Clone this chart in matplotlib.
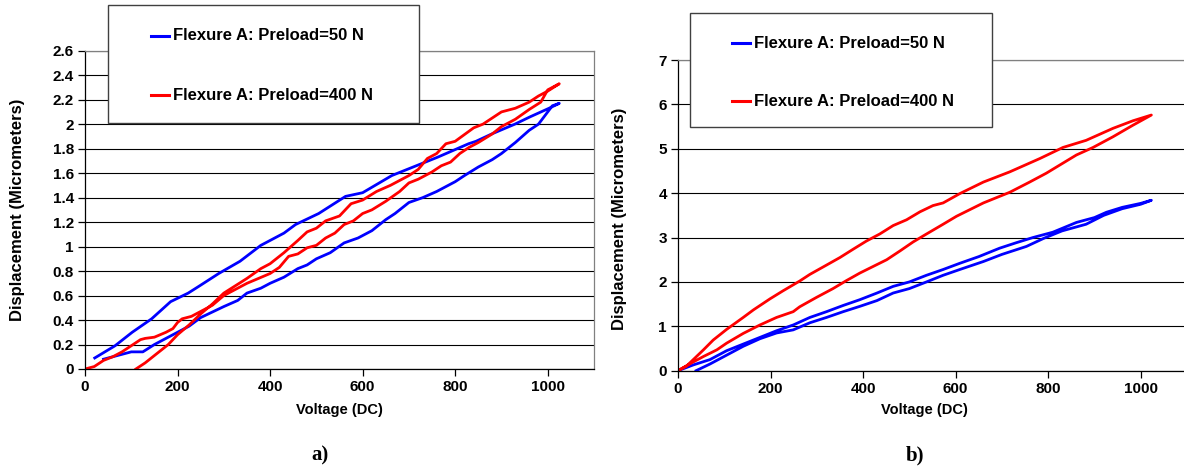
import matplotlib
matplotlib.use('Agg')
import matplotlib.pyplot as plt
from matplotlib.patches import Rectangle
from matplotlib.lines import Line2D

plt.rcParams['font.family'] = 'Liberation Sans'
plt.rcParams['font.weight'] = 'bold'

# ---- panel a) : loop data (going up on one branch, back down on the other)
a_blue_v = [21, 65, 102, 144, 185, 223, 248, 289, 335, 380, 430, 455, 505, 563, 600,
            663, 696, 762, 829, 845, 879, 929, 962, 1003, 1025,
            1010, 1000, 980, 960, 930, 900, 880, 850, 820, 800, 760, 730, 700, 670, 650,
            620, 590, 560, 530, 500, 480, 460, 430, 400, 380, 350, 330, 300, 250, 225,
            200, 175, 150, 125, 100, 80, 60, 40]
a_blue_d = [0.09, 0.19, 0.30, 0.41, 0.55, 0.62, 0.68, 0.78, 0.88, 1.01, 1.11, 1.18, 1.27, 1.41, 1.44,
            1.58, 1.63, 1.73, 1.84, 1.86, 1.92, 2.00, 2.06, 2.13, 2.17,
            2.15, 2.10, 2.00, 1.95, 1.85, 1.76, 1.71, 1.65, 1.58, 1.53, 1.45, 1.40, 1.36, 1.27, 1.22,
            1.13, 1.07, 1.03, 0.95, 0.90, 0.85, 0.82, 0.75, 0.70, 0.66, 0.62, 0.56, 0.51, 0.42, 0.35,
            0.30, 0.25, 0.20, 0.14, 0.14, 0.12, 0.10, 0.08]

a_red_v = [0, 20, 40, 60, 80, 100, 120, 130, 150, 175, 190, 200, 210, 230, 250, 275, 300,
           350, 400, 420, 440, 460, 480, 500, 520, 540, 560, 580, 600, 620, 650, 680, 700,
           720, 750, 770, 790, 810, 830, 850, 880, 900, 930, 960, 985, 1000, 1025,
           1000, 980, 960, 930, 900, 860, 840, 800, 780, 760, 740, 720, 700, 660, 630, 600,
           575, 550, 520, 500, 480, 460, 430, 400, 380, 350, 300, 275, 250, 225, 200, 180,
           160, 130, 110]
a_red_d = [0.00, 0.02, 0.07, 0.10, 0.14, 0.19, 0.24, 0.25, 0.26, 0.30, 0.33, 0.38, 0.41, 0.43, 0.47, 0.52, 0.60,
           0.70, 0.78, 0.83, 0.92, 0.94, 0.99, 1.01, 1.07, 1.11, 1.18, 1.21, 1.27, 1.30, 1.37, 1.45, 1.52,
           1.55, 1.61, 1.66, 1.69, 1.76, 1.81, 1.85, 1.92, 1.98, 2.04, 2.12, 2.18, 2.28, 2.33,
           2.27, 2.23, 2.18, 2.13, 2.10, 2.00, 1.97, 1.86, 1.84, 1.76, 1.72, 1.63, 1.58, 1.50, 1.45, 1.38,
           1.35, 1.25, 1.21, 1.15, 1.12, 1.05, 0.95, 0.86, 0.82, 0.74, 0.62, 0.53, 0.45, 0.36, 0.28, 0.20,
           0.14, 0.05, 0.00]

# ---- panel b)
b_blue_v = [0, 33, 69, 105, 141, 177, 213, 249, 285, 321, 357, 393, 430, 465, 500, 537, 573,
            609, 650, 695, 730, 767, 810, 861, 900, 926, 960, 1000, 1023,
            1000, 960, 920, 882, 830, 790, 753, 700, 660, 609, 573, 537, 500, 465, 430, 393,
            357, 321, 285, 249, 213, 177, 141, 105, 69, 39]
b_blue_d = [0.00, 0.13, 0.25, 0.45, 0.60, 0.75, 0.90, 1.03, 1.20, 1.33, 1.47, 1.60, 1.75, 1.90, 2.00, 2.15, 2.28,
            2.42, 2.57, 2.76, 2.88, 3.00, 3.12, 3.34, 3.45, 3.57, 3.68, 3.77, 3.84,
            3.75, 3.65, 3.50, 3.30, 3.15, 2.98, 2.80, 2.62, 2.46, 2.28, 2.15, 2.00, 1.85, 1.75, 1.58, 1.45,
            1.33, 1.20, 1.08, 0.92, 0.85, 0.72, 0.55, 0.35, 0.15, 0.00]

b_red_v = [0, 19, 55, 76, 105, 141, 163, 199, 227, 263, 285, 321, 350, 379, 407, 436, 465,
           494, 523, 551, 573, 609, 660, 717, 782, 832, 882, 940, 983, 1023,
           983, 940, 897, 861, 796, 760, 717, 660, 602, 573, 537, 508, 480, 451, 422, 393,
           364, 335, 299, 263, 249, 213, 177, 141, 105, 84, 55, 30, 0]
b_red_d = [0.00, 0.11, 0.47, 0.69, 0.93, 1.20, 1.37, 1.62, 1.80, 2.02, 2.17, 2.38, 2.55, 2.74, 2.92, 3.08, 3.27,
           3.40, 3.58, 3.72, 3.78, 3.99, 4.25, 4.48, 4.78, 5.03, 5.19, 5.46, 5.63, 5.76,
           5.53, 5.27, 5.03, 4.86, 4.45, 4.25, 4.02, 3.78, 3.48, 3.30, 3.08, 2.90, 2.70, 2.50, 2.35, 2.20,
           2.03, 1.85, 1.65, 1.44, 1.33, 1.20, 1.03, 0.84, 0.62, 0.47, 0.32, 0.18, 0.00]

labels = ['Flexure A: Preload=50 N', 'Flexure A: Preload=400 N']
colors = ['#0000FF', '#FF0000']

W, H = 1184, 471
fig = plt.figure(figsize=(W / 100, H / 100), dpi=100)

def px_axes(x0, y0, x1, y1):
    # pixel box (top-left origin) -> figure fraction
    return fig.add_axes([x0 / W, 1 - y1 / H, (x1 - x0) / W, (y1 - y0) / H])

ax_a = px_axes(85, 50.7, 594, 369)
ax_b = px_axes(678, 60, 1187, 370.7)

def style(ax, ymax, ystep, yfmt):
    ax.set_xlim(0, 1100)
    ax.set_ylim(0, ymax)
    ax.set_xticks(range(0, 1001, 200))
    yt = [i * ystep for i in range(int(round(ymax / ystep)) + 1)]
    ax.set_yticks(yt)
    ax.set_yticklabels([yfmt(v) for v in yt])
    ax.grid(axis='y', color='black', linewidth=0.8)
    ax.set_axisbelow(True)
    for s in ['top', 'right']:
        ax.spines[s].set_color('#808080')
        ax.spines[s].set_linewidth(0.9)
    for s in ['left', 'bottom']:
        ax.spines[s].set_color('black')
        ax.spines[s].set_linewidth(0.9)
    ax.tick_params(axis='both', direction='out', length=5, width=0.9, labelsize=11, pad=3)
    for t in ax.get_xticklabels() + ax.get_yticklabels():
        t.set_fontweight('bold')
    ax.set_xlabel('Voltage (DC)', fontsize=10.5, fontweight='bold', va='center')
    ax.set_ylabel('Displacement (Micrometers)', fontsize=12, fontweight='bold', va='center')

def fmt_a(v):
    s = '%.1f' % v
    return s[:-2] if s.endswith('.0') else s

style(ax_a, 2.6, 0.2, fmt_a)
style(ax_b, 7, 1, lambda v: '%d' % v)

ax_a.plot(a_blue_v, a_blue_d, color=colors[0], lw=2.0, solid_joinstyle='round')
ax_a.plot(a_red_v, a_red_d, color=colors[1], lw=2.0, solid_joinstyle='round')
ax_b.plot(b_blue_v, b_blue_d, color=colors[0], lw=2.0, solid_joinstyle='round')
ax_b.plot(b_red_v, b_red_d, color=colors[1], lw=2.0, solid_joinstyle='round')

ax_a.xaxis.set_label_coords(0.5, -0.129)
ax_b.xaxis.set_label_coords(0.485, -0.127)
ax_a.yaxis.set_label_coords(-0.132, 0.5)
ax_b.yaxis.set_label_coords(-0.114, 0.49)

# legend boxes drawn over the plot area (Excel style)
def legend_box(x0, y0, x1, y1, y_first, y_second, hx):
    rect = Rectangle((x0 / W, 1 - y1 / H), (x1 - x0) / W, (y1 - y0) / H,
                     transform=fig.transFigure, facecolor='white',
                     edgecolor='#404040', linewidth=1.0, zorder=5)
    fig.add_artist(rect)
    for i, yy in enumerate([y_first, y_second]):
        fig.add_artist(Line2D([hx / W, (hx + 18) / W], [1 - yy / H, 1 - yy / H],
                              transform=fig.transFigure, color=colors[i], lw=2.2, zorder=6))
        fig.text((hx + 22) / W, 1 - yy / H, labels[i], fontsize=12, fontweight='bold',
                 va='center', ha='left', zorder=6)

legend_box(108, 5, 419, 123, 36, 95, 151)
legend_box(690, 13, 992, 127, 43, 101, 732)

fig.text(320 / W, 1 - 455 / H, 'a)', family='Liberation Serif', fontsize=15,
         fontweight='bold', ha='center', va='center')
fig.text(915 / W, 1 - 455 / H, 'b)', family='Liberation Serif', fontsize=15,
         fontweight='bold', ha='center', va='center')

plt.savefig('out.png', dpi=100)
